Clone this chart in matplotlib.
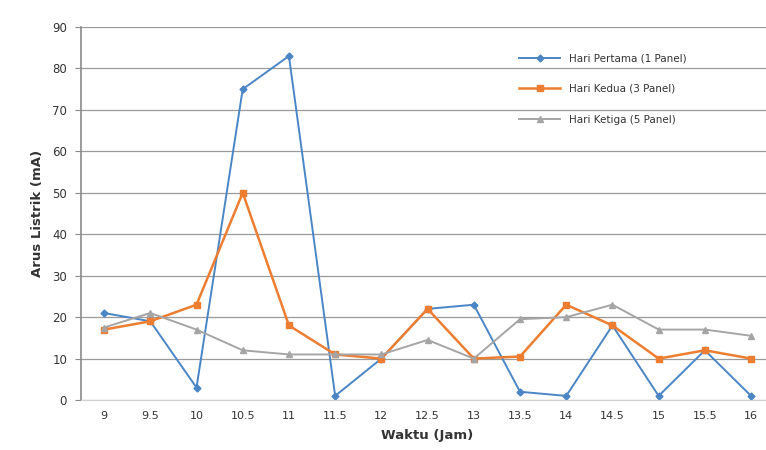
import numpy as np
import matplotlib.pyplot as plt

# Jam pengukuran (sumbu kategori)
waktu = [9, 9.5, 10, 10.5, 11, 11.5, 12, 12.5, 13, 13.5, 14, 14.5, 15, 15.5, 16]
label_waktu = ['9', '9.5', '10', '10.5', '11', '11.5', '12', '12.5',
               '13', '13.5', '14', '14.5', '15', '15.5', '16']

# Arus listrik (mA) tiap hari
hari_pertama = [21, 19, 3, 75, 83, 1, 10, 22, 23, 2, 1, 18, 1, 12, 1]
hari_kedua = [17, 19, 23, 50, 18, 11, 10, 22, 10, 10.5, 23, 18, 10, 12, 10]
hari_ketiga = [17.5, 21, 17, 12, 11, 11, 11, 14.5, 10, 19.5, 20, 23, 17, 17, 15.5]

nama_seri = ['Hari Pertama (1 Panel)', 'Hari Kedua (3 Panel)', 'Hari Ketiga (5 Panel)']

fig = plt.figure(figsize=(7.66, 4.5), dpi=100)
ax = fig.add_axes([0.1057, 0.111, 0.905, 0.829])

x = np.arange(len(waktu))
ax.plot(x, hari_pertama, color='#4a86c5', lw=1.4, marker='D', ms=3.5,
        label=nama_seri[0])
ax.plot(x, hari_kedua, color='#ed7d31', lw=1.8, marker='s', ms=5,
        label=nama_seri[1])
ax.plot(x, hari_ketiga, color='#a5a5a5', lw=1.4, marker='^', ms=4,
        label=nama_seri[2])

ax.set_xlim(-0.5, len(waktu) - 0.5)
ax.set_ylim(0, 90)
ax.set_yticks(range(0, 91, 10))
ax.set_xticks(x)
ax.set_xticklabels(label_waktu)

ax.grid(axis='y', color='#9a9a9a', lw=0.9)
ax.set_axisbelow(True)
for s in ['top', 'right']:
    ax.spines[s].set_visible(False)
ax.spines['left'].set_color('#8a8a8a')
ax.spines['left'].set_linewidth(1.2)
ax.spines['bottom'].set_color('#d0d0d0')
ax.tick_params(axis='y', length=4, color='#8a8a8a', labelsize=8.5,
               labelcolor='#333333', pad=6)
ax.tick_params(axis='x', length=0, labelsize=8, labelcolor='#333333', pad=8)

ax.set_xlabel('Waktu (Jam)', fontsize=9.5, fontweight='bold', color='#333333', labelpad=6)
ax.set_ylabel('Arus Listrik (mA)', fontsize=9.5, fontweight='bold', color='#333333', labelpad=6)

leg = ax.legend(loc='upper left', bbox_to_anchor=(0.618, 0.955), frameon=False,
                fontsize=7.5, labelspacing=2.0, handlelength=4.0)
for t in leg.get_texts():
    t.set_color('#333333')

fig.savefig('out.png', dpi=100)
